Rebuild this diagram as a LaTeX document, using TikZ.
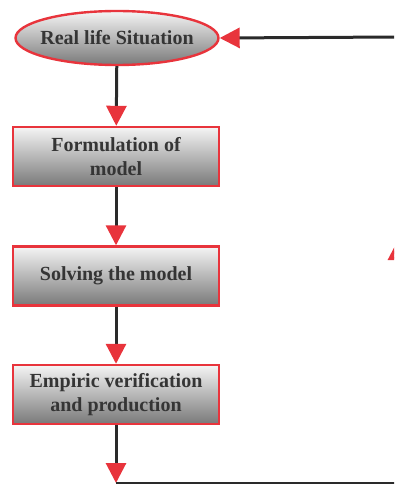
\documentclass[tikz,border=0pt]{standalone}
\usepackage{fontspec}
\setmainfont{Liberation Serif}
\usetikzlibrary{arrows.meta,shapes.geometric}
\definecolor{edgered}{HTML}{E8343C}
\definecolor{txtgray}{HTML}{353535}
\definecolor{linegray}{HTML}{2A2A2A}
\begin{document}
\begin{tikzpicture} [
  x=1pt, y=-1pt,
  stage/.style={draw=edgered, line width=2.4pt, top color=gray!8, bottom color=gray!95!black,
    text=txtgray, font=\fontsize{20}{24}\selectfont\bfseries, align=center,
    minimum width=206pt, minimum height=59pt, inner sep=0pt},
  flow/.style={draw=linegray, line width=3pt,
    -{Triangle[width=20pt,length=20pt,color=edgered,fill=edgered]}},
  plain/.style={draw=linegray, line width=3pt}]
\clip (0,0) rectangle (394,484);
\node[stage, ellipse, inner xsep=-20pt, minimum width=203pt, minimum height=54pt] (real) at (117,38) {Real life Situation};
\node[stage] (form) at (116,156.5) {Formulation of\\model};
\node[stage] (solve) at (116,276) {Solving the model};
\node[stage] (emp) at (116,394.5) {Empiric verification\\and production};
\coordinate (bl) at (116,483);
\coordinate (br) at (398,483);
\coordinate (mid) at (398,240);
\coordinate (tr) at (398,37);
% main chain
\draw[flow] (real) -- (form);
\draw[flow] (form) -- (solve);
\draw[flow] (solve) -- (emp);
\draw[flow] (emp) -- (bl);
% feedback loop
\draw[plain] (bl) -- (br) -- (tr);
\draw[flow] (br) -- (mid);
\draw[flow] (tr) -- (real.east);
\end{tikzpicture}
\end{document}
